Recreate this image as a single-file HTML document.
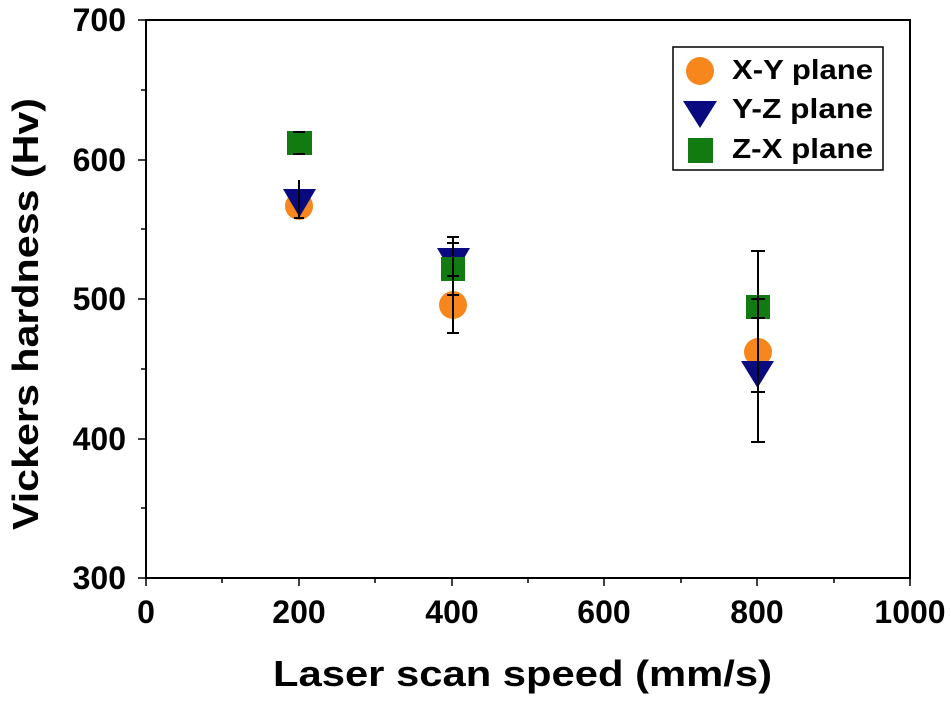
<!DOCTYPE html>
<html><head><style>body{margin:0;background:#fff}</style></head><body>
<svg width="951" height="697" xmlns="http://www.w3.org/2000/svg" font-family="Liberation Sans, Arial, sans-serif" font-weight="bold">
<rect width="951" height="697" fill="#fff"/>
<rect x="146" y="20" width="764" height="558" fill="none" stroke="#000" stroke-width="2"/>
<g stroke="#000" stroke-width="1.5">
<line x1="146" y1="578" x2="146" y2="586"/><line x1="299" y1="578" x2="299" y2="586"/><line x1="452" y1="578" x2="452" y2="586"/><line x1="604" y1="578" x2="604" y2="586"/><line x1="757" y1="578" x2="757" y2="586"/><line x1="910" y1="578" x2="910" y2="586"/>
<line x1="222" y1="578" x2="222" y2="583"/><line x1="375" y1="578" x2="375" y2="583"/><line x1="528" y1="578" x2="528" y2="583"/><line x1="681" y1="578" x2="681" y2="583"/><line x1="834" y1="578" x2="834" y2="583"/>
<line x1="138" y1="20" x2="146" y2="20"/><line x1="138" y1="160" x2="146" y2="160"/><line x1="138" y1="299" x2="146" y2="299"/><line x1="138" y1="439" x2="146" y2="439"/><line x1="138" y1="578" x2="146" y2="578"/>
<line x1="141" y1="90" x2="146" y2="90"/><line x1="141" y1="229" x2="146" y2="229"/><line x1="141" y1="369" x2="146" y2="369"/><line x1="141" y1="508" x2="146" y2="508"/>
</g>
<g font-size="32" text-anchor="end">
<text x="126" y="31">700</text><text x="126" y="171">600</text><text x="126" y="310">500</text><text x="126" y="450">400</text><text x="126" y="589">300</text>
</g>
<g font-size="32" text-anchor="middle">
<text x="146" y="623">0</text><text x="299" y="623">200</text><text x="452" y="623">400</text><text x="604" y="623">600</text><text x="757" y="623">800</text><text x="910" y="623">1000</text>
</g>
<text x="273" y="686" font-size="36" textLength="499" lengthAdjust="spacingAndGlyphs">Laser scan speed (mm/s)</text>
<text transform="translate(38,530) rotate(-90)" font-size="36" textLength="432" lengthAdjust="spacingAndGlyphs">Vickers hardness (Hv)</text>
<!-- points -->
<circle cx="299" cy="206" r="14" fill="#f7861c"/>
<polygon points="283,189 316,189 299.5,217" fill="#0a0a80"/>
<rect x="287" y="131" width="25" height="24" fill="#117a11"/>
<circle cx="453" cy="305" r="14" fill="#f7861c"/>
<polygon points="437,248 470,248 453.5,276" fill="#0a0a80"/>
<rect x="441" y="257" width="24" height="24" fill="#117a11"/>
<circle cx="758" cy="352" r="14" fill="#f7861c"/>
<polygon points="741,361 774,361 757.5,388" fill="#0a0a80"/>
<rect x="746" y="295" width="24" height="24" fill="#117a11"/>
<g stroke="#000" stroke-width="2">
<line x1="299" y1="180" x2="299" y2="218"/><line x1="294" y1="218" x2="304" y2="218"/>
<line x1="293" y1="132" x2="305" y2="132"/><line x1="293" y1="154" x2="305" y2="154"/>
<line x1="453" y1="237" x2="453" y2="333"/><line x1="447" y1="237" x2="459" y2="237"/><line x1="447" y1="243" x2="459" y2="243"/>
<line x1="447" y1="295" x2="459" y2="295"/><line x1="447" y1="333" x2="459" y2="333"/><line x1="447" y1="276" x2="459" y2="276"/>
<line x1="758" y1="251" x2="758" y2="442"/><line x1="751" y1="251" x2="765" y2="251"/><line x1="751" y1="442" x2="765" y2="442"/>
<line x1="751" y1="299" x2="765" y2="299"/><line x1="751" y1="318" x2="765" y2="318"/><line x1="751" y1="392" x2="765" y2="392"/>
</g>
<!-- legend -->
<rect x="673" y="47" width="210" height="123" fill="#fff" stroke="#000" stroke-width="1.5"/>
<circle cx="700" cy="71" r="14" fill="#f7861c"/>
<polygon points="683,101 717,101 700,128" fill="#0a0a80"/>
<rect x="688" y="138" width="25" height="25" fill="#117a11"/>
<g font-size="28"><text x="732" y="79" textLength="141" lengthAdjust="spacingAndGlyphs">X-Y plane</text><text x="732" y="118" textLength="141" lengthAdjust="spacingAndGlyphs">Y-Z plane</text><text x="732" y="158" textLength="141" lengthAdjust="spacingAndGlyphs">Z-X plane</text></g>
</svg>
</body></html>
